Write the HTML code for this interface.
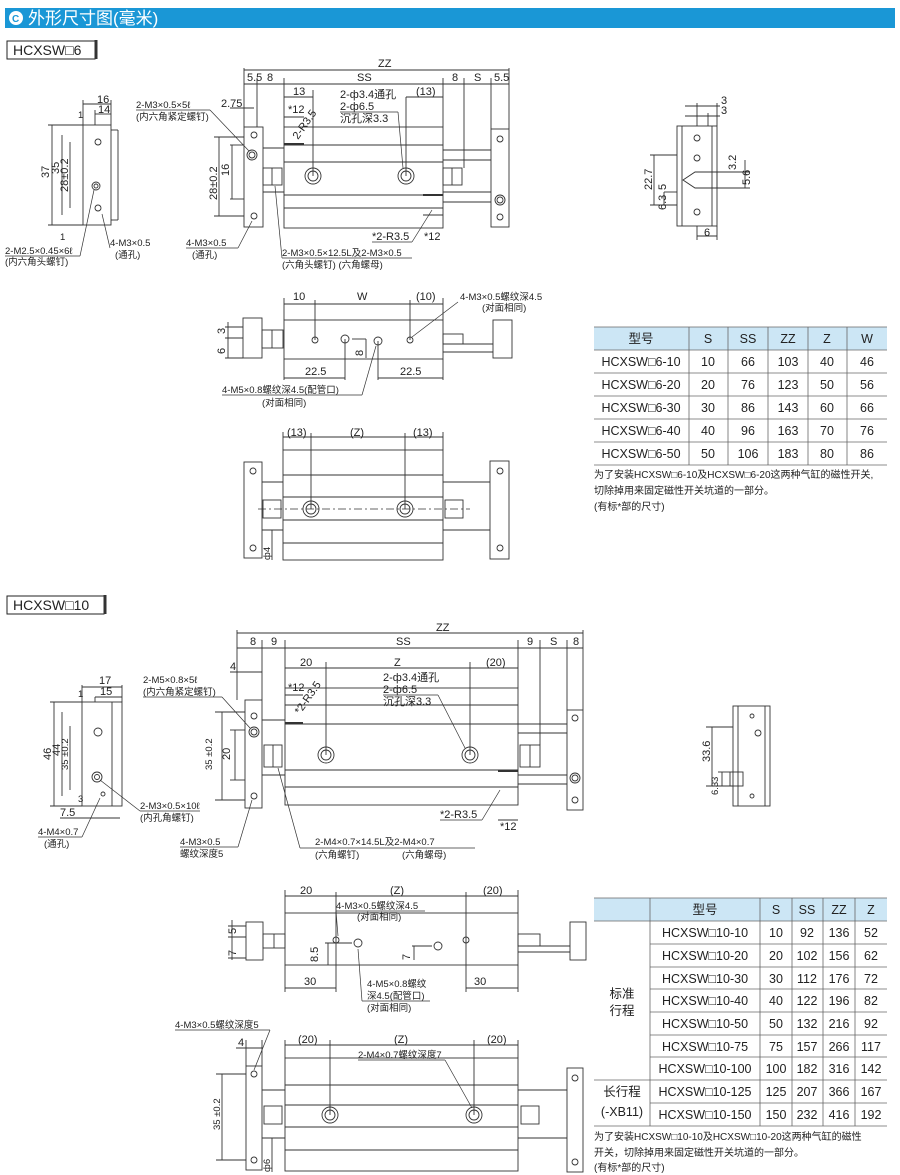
<!DOCTYPE html>
<html><head><meta charset="utf-8"><style>
body{margin:0;background:#fff;width:900px;height:1175px;overflow:hidden;font-family:"Liberation Sans","Noto Sans CJK SC",sans-serif}
svg{position:absolute;left:0;top:0}
text{font-family:"Liberation Sans","Noto Sans CJK SC",sans-serif;fill:#222}
.t{font-size:11px}
.s{font-size:9.5px}
.n{font-size:10px}
.tb{font-size:12.5px}
</style></head><body>
<svg width="900" height="1175" viewBox="0 0 900 1175" stroke="#333" stroke-width="1" fill="none">
<!-- header -->
<rect x="5" y="8" width="890" height="20" fill="#1a97d6" stroke="none"/>
<circle cx="16" cy="18" r="7" fill="#fff" stroke="none"/>
<text x="12" y="22" style="font-size:10px;font-weight:bold;fill:#1a97d6" stroke="none">C</text>
<text x="28" y="24" style="font-size:17px;fill:#fff" stroke="none">外形尺寸图(毫米)</text>
<rect x="7" y="41" width="88" height="18" stroke="#222"/><line x1="96" y1="40" x2="96" y2="59" stroke-width="3"/>
<text x="13" y="55" style="font-size:14px" stroke="none">HCXSW□6</text>
<rect x="7" y="596" width="97" height="18" stroke="#222"/><line x1="105" y1="595" x2="105" y2="614" stroke-width="3"/>
<text x="13" y="610" style="font-size:14px" stroke="none">HCXSW□10</text>

<!-- ===== Section 1 left side view ===== -->
<g stroke-width="0.9">
<rect x="83" y="125" width="28" height="100"/>
<line x1="111" y1="130" x2="118" y2="130"/><line x1="118" y1="130" x2="118" y2="220"/><line x1="111" y1="220" x2="118" y2="220"/>
<circle cx="98" cy="142" r="3"/><circle cx="96" cy="186" r="4"/><circle cx="96" cy="186" r="2"/><circle cx="98" cy="208" r="3"/>
<line x1="52" y1="125" x2="52" y2="225"/><line x1="62" y1="135" x2="62" y2="215"/><line x1="70" y1="142" x2="70" y2="208"/>
<line x1="48" y1="125" x2="83" y2="125"/><line x1="48" y1="225" x2="83" y2="225"/>
<line x1="83" y1="100" x2="83" y2="125"/><line x1="111" y1="100" x2="111" y2="125"/><line x1="95" y1="110" x2="95" y2="125"/>
<line x1="83" y1="104" x2="111" y2="104"/><line x1="95" y1="114" x2="111" y2="114"/>
</g>
<text class="t" x="97" y="103" stroke="none">16</text><text class="t" x="98" y="113" stroke="none">14</text>
<text class="s" x="78" y="118" stroke="none">1</text><text class="s" x="60" y="240" stroke="none">1</text>
<text class="t" transform="translate(49,178) rotate(-90)" stroke="none">37</text>
<text class="t" transform="translate(59,174) rotate(-90)" stroke="none">35</text>
<text class="t" transform="translate(68,192) rotate(-90)" stroke="none">28±0.2</text>
<text class="s" x="5" y="254" stroke="none">2-M2.5×0.45×6ℓ</text><text class="s" x="5" y="265" stroke="none">(内六角头螺钉)</text>
<line x1="5" y1="256" x2="80" y2="256" stroke-width=".7"/><line x1="80" y1="256" x2="94" y2="190" stroke-width=".7"/>
<text class="s" x="110" y="246" stroke="none">4-M3×0.5</text><text class="s" x="115" y="258" stroke="none">(通孔)</text>
<line x1="110" y1="248" x2="102" y2="214" stroke-width=".7"/>

<!-- ===== Section 1 main top view ===== -->
<g stroke-width="0.9">
<rect x="244" y="127" width="19" height="100"/>
<circle cx="254" cy="135" r="3"/><circle cx="252" cy="155" r="5"/><circle cx="252" cy="155" r="3"/><circle cx="254" cy="216" r="3"/>
<rect x="284" y="127" width="159" height="101"/>
<line x1="284" y1="145" x2="443" y2="145"/><line x1="284" y1="162" x2="443" y2="162"/><line x1="284" y1="195" x2="443" y2="195"/><line x1="284" y1="208" x2="443" y2="208"/>
<line x1="263" y1="148" x2="284" y2="148"/><line x1="263" y1="192" x2="284" y2="192"/>
<line x1="443" y1="150" x2="491" y2="150"/><line x1="443" y1="160" x2="491" y2="160"/><line x1="443" y1="192" x2="491" y2="192"/><line x1="443" y1="202" x2="491" y2="202"/>
<rect x="263" y="168" width="19" height="17"/><line x1="272" y1="168" x2="272" y2="185"/>
<rect x="443" y="168" width="19" height="17"/><line x1="452" y1="168" x2="452" y2="185"/>
<rect x="491" y="129" width="18" height="98"/>
<circle cx="500" cy="139" r="3"/><circle cx="500" cy="200" r="5"/><circle cx="500" cy="200" r="3"/><circle cx="500" cy="217" r="3"/>
<circle cx="313" cy="176" r="8"/><circle cx="313" cy="176" r="5"/><circle cx="406" cy="176" r="8"/><circle cx="406" cy="176" r="5"/>
<line x1="284" y1="144" x2="304" y2="144" stroke-width="2"/><line x1="423" y1="195" x2="443" y2="195" stroke-width="2"/>
<line x1="244" y1="68" x2="244" y2="127"/><line x1="509" y1="68" x2="509" y2="129"/>
<line x1="244" y1="70" x2="509" y2="70"/>
<line x1="244" y1="84" x2="509" y2="84"/>
<line x1="257" y1="78" x2="257" y2="127"/><line x1="284" y1="78" x2="284" y2="127"/><line x1="443" y1="78" x2="443" y2="127"/>
<line x1="464" y1="78" x2="464" y2="168"/><line x1="491" y1="78" x2="491" y2="129"/>
<line x1="284" y1="97" x2="313" y2="97"/><line x1="313" y1="90" x2="313" y2="176"/>
<line x1="406" y1="97" x2="406" y2="176"/><line x1="406" y1="97" x2="443" y2="97"/>
<line x1="284" y1="117" x2="304" y2="117"/>
<line x1="230" y1="108" x2="254" y2="108"/>
<line x1="214" y1="137" x2="244" y2="137"/><line x1="214" y1="216" x2="244" y2="216"/>
<line x1="219" y1="137" x2="219" y2="216"/><line x1="230" y1="145" x2="244" y2="145"/><line x1="230" y1="199" x2="244" y2="199"/><line x1="232" y1="145" x2="232" y2="199"/>
<line x1="423" y1="215" x2="443" y2="215"/>
</g>
<text class="t" x="378" y="67" stroke="none">ZZ</text>
<text class="t" x="247" y="81" stroke="none">5.5</text><text class="t" x="267" y="81" stroke="none">8</text>
<text class="t" x="357" y="81" stroke="none">SS</text><text class="t" x="452" y="81" stroke="none">8</text><text class="t" x="474" y="81" stroke="none">S</text><text class="t" x="494" y="81" stroke="none">5.5</text>
<text class="t" x="293" y="95" stroke="none">13</text><text class="t" x="416" y="95" stroke="none">(13)</text>
<text class="t" x="288" y="113" stroke="none">*12</text>
<text class="t" x="221" y="107" stroke="none">2.75</text>
<text class="t" transform="translate(298,140) rotate(-55)" stroke="none">2-R3.5</text>
<text class="t" x="340" y="98" stroke="none">2-ф3.4通孔</text><text class="t" x="340" y="110" stroke="none">2-ф6.5</text><text class="t" x="340" y="122" stroke="none">沉孔深3.3</text>
<line x1="340" y1="112" x2="398" y2="112" stroke-width=".7"/><line x1="398" y1="112" x2="403" y2="168" stroke-width=".7"/>
<text class="t" transform="translate(217,200) rotate(-90)" stroke="none">28±0.2</text>
<text class="t" transform="translate(229,176) rotate(-90)" stroke="none">16</text>
<text class="s" x="136" y="108" stroke="none">2-M3×0.5×5ℓ</text><text class="s" x="136" y="120" stroke="none">(内六角紧定螺钉)</text>
<line x1="136" y1="110" x2="210" y2="110" stroke-width=".7"/><line x1="210" y1="110" x2="249" y2="151" stroke-width=".7"/>
<text class="s" x="186" y="246" stroke="none">4-M3×0.5</text><text class="s" x="192" y="258" stroke="none">(通孔)</text>
<line x1="186" y1="248" x2="238" y2="248" stroke-width=".7"/><line x1="238" y1="248" x2="252" y2="221" stroke-width=".7"/>
<text class="s" x="282" y="256" stroke="none">2-M3×0.5×12.5L及2-M3×0.5</text><text class="s" x="282" y="268" stroke="none">(六角头螺钉) (六角螺母)</text>
<line x1="282" y1="258" x2="412" y2="258" stroke-width=".7"/><line x1="282" y1="258" x2="275" y2="186" stroke-width=".7"/>
<text class="t" x="372" y="240" stroke="none">*2-R3.5</text><text class="t" x="424" y="240" stroke="none">*12</text>
<line x1="372" y1="242" x2="412" y2="242" stroke-width=".7"/><line x1="412" y1="242" x2="432" y2="210" stroke-width=".7"/>

<!-- ===== Section 1 right side view ===== -->
<g stroke-width="0.9">
<rect x="677" y="126" width="40" height="100"/>
<line x1="682" y1="126" x2="682" y2="226"/><line x1="712" y1="126" x2="712" y2="226"/>
<circle cx="697" cy="138" r="3"/><circle cx="697" cy="158" r="3"/><circle cx="697" cy="212" r="3"/>
<path d="M683 180 L695 172 L717 172 L717 188 L695 188 Z"/>
<line x1="697" y1="103" x2="697" y2="126"/><line x1="717" y1="103" x2="717" y2="126"/><line x1="708" y1="113" x2="708" y2="126"/>
<line x1="685" y1="106" x2="720" y2="106"/><line x1="685" y1="116" x2="720" y2="116"/>
<line x1="650" y1="155" x2="677" y2="155"/><line x1="650" y1="205" x2="677" y2="205"/><line x1="654" y1="155" x2="654" y2="205"/>
<line x1="664" y1="192" x2="677" y2="192"/><line x1="664" y1="192" x2="664" y2="205"/>
<line x1="717" y1="172" x2="750" y2="172"/><line x1="717" y1="188" x2="750" y2="188"/><line x1="745" y1="160" x2="745" y2="188"/>
<line x1="697" y1="226" x2="697" y2="240"/><line x1="717" y1="226" x2="717" y2="240"/><line x1="697" y1="236" x2="717" y2="236"/>
</g>
<text class="t" x="721" y="104" stroke="none">3</text><text class="t" x="721" y="114" stroke="none">3</text>
<text class="t" transform="translate(652,190) rotate(-90)" stroke="none">22.7</text>
<text class="t" transform="translate(666,190) rotate(-90)" stroke="none">5</text>
<text class="t" transform="translate(666,210) rotate(-90)" stroke="none">6.3</text>
<text class="t" transform="translate(736,170) rotate(-90)" stroke="none">3.2</text>
<text class="t" transform="translate(750,185) rotate(-90)" stroke="none">5.6</text>
<text class="t" x="704" y="236" stroke="none">6</text>

<!-- ===== Section 1 second view ===== -->
<g stroke-width="0.9">
<rect x="243" y="318" width="19" height="40"/><rect x="262" y="330" width="21" height="18"/><line x1="272" y1="330" x2="272" y2="348"/>
<rect x="284" y="320" width="159" height="39"/>
<rect x="443" y="334" width="20" height="10"/><line x1="443" y1="344" x2="493" y2="344"/><line x1="443" y1="352" x2="493" y2="352"/>
<rect x="493" y="320" width="19" height="38"/>
<circle cx="315" cy="340" r="3"/><circle cx="345" cy="339" r="4"/><circle cx="378" cy="341" r="4"/><circle cx="410" cy="340" r="3"/>
<line x1="284" y1="298" x2="284" y2="320"/><line x1="443" y1="298" x2="443" y2="320"/>
<line x1="284" y1="304" x2="443" y2="304"/><line x1="315" y1="300" x2="315" y2="340"/><line x1="410" y1="300" x2="410" y2="340"/>
<line x1="284" y1="359" x2="284" y2="380"/><line x1="345" y1="339" x2="345" y2="380"/><line x1="284" y1="378" x2="345" y2="378"/>
<line x1="378" y1="341" x2="378" y2="380"/><line x1="443" y1="359" x2="443" y2="380"/><line x1="378" y1="378" x2="443" y2="378"/>
<line x1="352" y1="339" x2="366" y2="339"/><line x1="366" y1="339" x2="366" y2="358"/>
<line x1="225" y1="327" x2="243" y2="327"/><line x1="225" y1="338" x2="243" y2="338"/><line x1="225" y1="358" x2="243" y2="358"/><line x1="228" y1="322" x2="228" y2="358"/>
</g>
<text class="t" x="293" y="300" stroke="none">10</text><text class="t" x="357" y="300" stroke="none">W</text><text class="t" x="416" y="300" stroke="none">(10)</text>
<text class="s" x="460" y="300" stroke="none">4-M3×0.5螺纹深4.5</text><text class="s" x="482" y="311" stroke="none">(对面相同)</text>
<line x1="458" y1="302" x2="412" y2="337" stroke-width=".7"/>
<text class="t" x="305" y="375" stroke="none">22.5</text><text class="t" x="400" y="375" stroke="none">22.5</text>
<text class="t" transform="translate(225,334) rotate(-90)" stroke="none">3</text>
<text class="t" transform="translate(225,354) rotate(-90)" stroke="none">6</text>
<text class="t" transform="translate(363,356) rotate(-90)" stroke="none">8</text>
<text class="s" x="222" y="393" stroke="none">4-M5×0.8螺纹深4.5(配管口)</text><text class="s" x="262" y="406" stroke="none">(对面相同)</text>
<line x1="222" y1="395" x2="362" y2="395" stroke-width=".7"/><line x1="362" y1="395" x2="376" y2="346" stroke-width=".7"/>

<!-- ===== Section 1 third view ===== -->
<g stroke-width="0.9">
<rect x="244" y="462" width="18" height="96"/><circle cx="253" cy="471" r="3"/><circle cx="253" cy="548" r="3"/>
<rect x="283" y="450" width="160" height="110"/>
<line x1="283" y1="475" x2="443" y2="475"/><line x1="283" y1="497" x2="443" y2="497"/><line x1="283" y1="520" x2="443" y2="520"/><line x1="283" y1="543" x2="443" y2="543"/>
<line x1="262" y1="482" x2="283" y2="482"/><line x1="262" y1="530" x2="283" y2="530"/>
<line x1="443" y1="482" x2="490" y2="482"/><line x1="443" y1="530" x2="490" y2="530"/>
<rect x="263" y="500" width="18" height="18"/><rect x="445" y="500" width="18" height="18"/>
<rect x="490" y="461" width="19" height="98"/><circle cx="500" cy="471" r="3"/><circle cx="500" cy="548" r="3"/>
<circle cx="311" cy="509" r="8"/><circle cx="311" cy="509" r="5"/><circle cx="405" cy="509" r="8"/><circle cx="405" cy="509" r="5"/>
<line x1="258" y1="509" x2="470" y2="509" stroke-dasharray="8,3,2,3" stroke-width=".7"/>
<line x1="283" y1="432" x2="283" y2="450"/><line x1="443" y1="432" x2="443" y2="450"/><line x1="283" y1="437" x2="443" y2="437"/>
<line x1="311" y1="433" x2="311" y2="509"/><line x1="405" y1="433" x2="405" y2="509"/>
<line x1="272" y1="530" x2="272" y2="560"/>
</g>
<text class="t" x="287" y="436" stroke="none">(13)</text><text class="t" x="350" y="436" stroke="none">(Z)</text><text class="t" x="413" y="436" stroke="none">(13)</text>
<text class="s" transform="translate(270,560) rotate(-90)" stroke="none">ф4</text>

<!-- ===== Table 1 ===== -->
<rect x="594" y="327" width="293" height="23" fill="#cce6f5" stroke="none"/>
<g stroke="#666" stroke-width=".8">
<line x1="594" y1="327" x2="887" y2="327"/><line x1="594" y1="350" x2="887" y2="350"/>
<line x1="594" y1="373" x2="887" y2="373"/><line x1="594" y1="396" x2="887" y2="396"/><line x1="594" y1="419" x2="887" y2="419"/><line x1="594" y1="442" x2="887" y2="442"/><line x1="594" y1="465" x2="887" y2="465"/>
<line x1="689" y1="327" x2="689" y2="465"/><line x1="728" y1="327" x2="728" y2="465"/><line x1="768" y1="327" x2="768" y2="465"/><line x1="808" y1="327" x2="808" y2="465"/><line x1="847" y1="327" x2="847" y2="465"/>
</g>
<g stroke="none" class="tb" text-anchor="middle">
<text x="641" y="343">型号</text><text x="708" y="343">S</text><text x="748" y="343">SS</text><text x="788" y="343">ZZ</text><text x="827" y="343">Z</text><text x="867" y="343">W</text>
<text x="641" y="366">HCXSW□6-10</text><text x="708" y="366">10</text><text x="748" y="366">66</text><text x="788" y="366">103</text><text x="827" y="366">40</text><text x="867" y="366">46</text>
<text x="641" y="389">HCXSW□6-20</text><text x="708" y="389">20</text><text x="748" y="389">76</text><text x="788" y="389">123</text><text x="827" y="389">50</text><text x="867" y="389">56</text>
<text x="641" y="412">HCXSW□6-30</text><text x="708" y="412">30</text><text x="748" y="412">86</text><text x="788" y="412">143</text><text x="827" y="412">60</text><text x="867" y="412">66</text>
<text x="641" y="435">HCXSW□6-40</text><text x="708" y="435">40</text><text x="748" y="435">96</text><text x="788" y="435">163</text><text x="827" y="435">70</text><text x="867" y="435">76</text>
<text x="641" y="458">HCXSW□6-50</text><text x="708" y="458">50</text><text x="748" y="458">106</text><text x="788" y="458">183</text><text x="827" y="458">80</text><text x="867" y="458">86</text>
</g>
<text class="n" x="594" y="478" stroke="none">为了安装HCXSW□6-10及HCXSW□6-20这两种气缸的磁性开关,</text>
<text class="n" x="594" y="494" stroke="none">切除掉用来固定磁性开关坑道的一部分。</text>
<text class="n" x="594" y="510" stroke="none">(有标*部的尺寸)</text>

<!-- ===== Section 2 left side view ===== -->
<g stroke-width="0.9">
<rect x="82" y="702" width="40" height="104"/><line x1="112" y1="702" x2="112" y2="806"/>
<circle cx="98" cy="732" r="4"/><circle cx="97" cy="777" r="5"/><circle cx="97" cy="777" r="2.5"/><circle cx="103" cy="794" r="2"/>
<line x1="50" y1="702" x2="82" y2="702"/><line x1="50" y1="806" x2="82" y2="806"/><line x1="54" y1="702" x2="54" y2="806"/>
<line x1="62" y1="712" x2="62" y2="796"/><line x1="70" y1="726" x2="70" y2="790"/>
<line x1="82" y1="685" x2="82" y2="702"/><line x1="122" y1="685" x2="122" y2="702"/><line x1="95" y1="697" x2="95" y2="702"/>
<line x1="82" y1="687" x2="122" y2="687"/><line x1="95" y1="697" x2="122" y2="697"/>
<line x1="60" y1="818" x2="120" y2="818"/>
</g>
<text class="t" x="99" y="684" stroke="none">17</text><text class="t" x="100" y="695" stroke="none">15</text><text class="s" x="78" y="697" stroke="none">1</text>
<text class="t" transform="translate(51,760) rotate(-90)" stroke="none">46</text>
<text class="t" transform="translate(60,756) rotate(-90)" stroke="none">44</text>
<text class="s" transform="translate(68,770) rotate(-90)" stroke="none">35 ±0.2</text>
<text class="t" x="60" y="816" stroke="none">7.5</text><text class="s" x="78" y="802" stroke="none">3</text>
<text class="s" x="38" y="835" stroke="none">4-M4×0.7</text><text class="s" x="44" y="847" stroke="none">(通孔)</text>
<line x1="38" y1="837" x2="82" y2="837" stroke-width=".7"/><line x1="82" y1="837" x2="100" y2="798" stroke-width=".7"/>
<text class="s" x="140" y="809" stroke="none">2-M3×0.5×10ℓ</text><text class="s" x="140" y="821" stroke="none">(内孔角螺钉)</text>
<line x1="140" y1="811" x2="200" y2="811" stroke-width=".7"/><line x1="140" y1="811" x2="100" y2="780" stroke-width=".7"/>

<!-- ===== Section 2 main top view ===== -->
<g stroke-width="0.9">
<rect x="245" y="700" width="17" height="108"/><circle cx="254" cy="716" r="3"/><circle cx="254" cy="732" r="5"/><circle cx="254" cy="732" r="3"/><circle cx="254" cy="796" r="3"/>
<rect x="285" y="688" width="233" height="117"/>
<line x1="285" y1="705" x2="518" y2="705"/><line x1="285" y1="724" x2="518" y2="724"/><line x1="285" y1="770" x2="518" y2="770"/><line x1="285" y1="787" x2="518" y2="787"/>
<line x1="262" y1="720" x2="285" y2="720"/><line x1="262" y1="775" x2="285" y2="775"/>
<rect x="264" y="745" width="18" height="22"/><line x1="273" y1="745" x2="273" y2="767"/>
<rect x="520" y="745" width="20" height="22"/><line x1="530" y1="745" x2="530" y2="767"/>
<line x1="518" y1="724" x2="567" y2="724"/><line x1="518" y1="733" x2="567" y2="733"/><line x1="518" y1="775" x2="567" y2="775"/><line x1="518" y1="784" x2="567" y2="784"/>
<rect x="567" y="710" width="16" height="100"/><circle cx="575" cy="718" r="3"/><circle cx="575" cy="778" r="5"/><circle cx="575" cy="778" r="3"/><circle cx="575" cy="800" r="3"/>
<circle cx="326" cy="755" r="8"/><circle cx="326" cy="755" r="5"/><circle cx="470" cy="755" r="8"/><circle cx="470" cy="755" r="5"/>
<line x1="285" y1="723" x2="303" y2="723" stroke-width="2"/><line x1="498" y1="771" x2="518" y2="771" stroke-width="2"/>
<line x1="237" y1="630" x2="237" y2="700"/><line x1="583" y1="630" x2="583" y2="710"/><line x1="237" y1="633" x2="583" y2="633"/>
<line x1="237" y1="648" x2="583" y2="648"/><line x1="262" y1="640" x2="262" y2="700"/><line x1="285" y1="640" x2="285" y2="688"/><line x1="518" y1="640" x2="518" y2="688"/>
<line x1="540" y1="640" x2="540" y2="745"/><line x1="567" y1="640" x2="567" y2="710"/>
<line x1="285" y1="668" x2="326" y2="668"/><line x1="326" y1="662" x2="326" y2="755"/><line x1="470" y1="662" x2="470" y2="755"/><line x1="326" y1="668" x2="518" y2="668"/>
<line x1="285" y1="695" x2="303" y2="695"/>
<line x1="230" y1="672" x2="262" y2="672"/>
<line x1="215" y1="712" x2="245" y2="712"/><line x1="215" y1="800" x2="245" y2="800"/><line x1="222" y1="712" x2="222" y2="800"/>
<line x1="230" y1="730" x2="245" y2="730"/><line x1="230" y1="780" x2="245" y2="780"/><line x1="235" y1="730" x2="235" y2="780"/>
<line x1="498" y1="820" x2="518" y2="820"/>
</g>
<text class="t" x="436" y="631" stroke="none">ZZ</text>
<text class="t" x="250" y="645" stroke="none">8</text><text class="t" x="271" y="645" stroke="none">9</text><text class="t" x="396" y="645" stroke="none">SS</text>
<text class="t" x="527" y="645" stroke="none">9</text><text class="t" x="550" y="645" stroke="none">S</text><text class="t" x="573" y="645" stroke="none">8</text>
<text class="t" x="300" y="666" stroke="none">20</text><text class="t" x="394" y="666" stroke="none">Z</text><text class="t" x="486" y="666" stroke="none">(20)</text>
<text class="t" x="230" y="670" stroke="none">4</text>
<text class="t" x="288" y="691" stroke="none">*12</text>
<text class="t" transform="translate(300,715) rotate(-55)" stroke="none">*2-R3.5</text>
<text class="t" x="383" y="681" stroke="none">2-ф3.4通孔</text><text class="t" x="383" y="693" stroke="none">2-ф6.5</text><text class="t" x="383" y="705" stroke="none">沉孔深3.3</text>
<line x1="383" y1="695" x2="438" y2="695" stroke-width=".7"/><line x1="438" y1="695" x2="465" y2="748" stroke-width=".7"/>
<text class="s" transform="translate(212,770) rotate(-90)" stroke="none">35 ±0.2</text>
<text class="t" transform="translate(230,760) rotate(-90)" stroke="none">20</text>
<text class="s" x="143" y="683" stroke="none">2-M5×0.8×5ℓ</text><text class="s" x="143" y="695" stroke="none">(内六角紧定螺钉)</text>
<line x1="143" y1="697" x2="222" y2="697" stroke-width=".7"/><line x1="222" y1="697" x2="250" y2="728" stroke-width=".7"/>
<text class="s" x="180" y="845" stroke="none">4-M3×0.5</text><text class="s" x="180" y="857" stroke="none">螺纹深度5</text>
<line x1="180" y1="847" x2="238" y2="847" stroke-width=".7"/><line x1="238" y1="847" x2="252" y2="800" stroke-width=".7"/>
<text class="s" x="315" y="845" stroke="none">2-M4×0.7×14.5L及2-M4×0.7</text><text class="s" x="315" y="858" stroke="none">(六角螺钉)</text><text class="s" x="402" y="858" stroke="none">(六角螺母)</text>
<line x1="300" y1="848" x2="475" y2="848" stroke-width=".7"/><line x1="300" y1="848" x2="278" y2="768" stroke-width=".7"/>
<text class="t" x="440" y="818" stroke="none">*2-R3.5</text><text class="t" x="500" y="830" stroke="none">*12</text>
<line x1="440" y1="820" x2="482" y2="820" stroke-width=".7"/><line x1="482" y1="820" x2="500" y2="790" stroke-width=".7"/>

<!-- ===== Section 2 right side view ===== -->
<g stroke-width="0.9">
<rect x="733" y="706" width="37" height="100"/><line x1="738" y1="706" x2="738" y2="806"/><line x1="765" y1="706" x2="765" y2="806"/>
<circle cx="752" cy="716" r="2"/><circle cx="758" cy="733" r="3"/><circle cx="752" cy="796" r="2"/>
<rect x="730" y="772" width="13" height="14"/>
<line x1="706" y1="727" x2="733" y2="727"/><line x1="706" y1="786" x2="733" y2="786"/><line x1="712" y1="727" x2="712" y2="786"/>
<line x1="718" y1="772" x2="730" y2="772"/><line x1="722" y1="772" x2="722" y2="786"/>
</g>
<text class="t" transform="translate(710,762) rotate(-90)" stroke="none">33.6</text>
<text class="s" transform="translate(718,782) rotate(-90)" stroke="none">3</text>
<text class="s" transform="translate(718,795) rotate(-90)" stroke="none">6.3</text>

<!-- ===== Section 2 second view ===== -->
<g stroke-width="0.9">
<rect x="246" y="922" width="17" height="38"/><rect x="263" y="934" width="22" height="14"/><line x1="274" y1="934" x2="274" y2="948"/>
<rect x="285" y="913" width="233" height="52"/>
<rect x="518" y="934" width="22" height="12"/><line x1="518" y1="946" x2="570" y2="946"/><line x1="518" y1="952" x2="570" y2="952"/>
<rect x="570" y="922" width="16" height="38"/>
<circle cx="336" cy="940" r="3"/><circle cx="358" cy="943" r="4"/><circle cx="438" cy="946" r="4"/><circle cx="466" cy="940" r="3"/>
<line x1="285" y1="890" x2="285" y2="913"/><line x1="518" y1="890" x2="518" y2="913"/><line x1="285" y1="896" x2="518" y2="896"/>
<line x1="336" y1="892" x2="336" y2="940"/><line x1="466" y1="892" x2="466" y2="940"/>
<line x1="285" y1="965" x2="285" y2="992"/><line x1="336" y1="940" x2="336" y2="992"/><line x1="285" y1="988" x2="336" y2="988"/>
<line x1="466" y1="940" x2="466" y2="992"/><line x1="518" y1="965" x2="518" y2="992"/><line x1="466" y1="988" x2="518" y2="988"/>
<line x1="228" y1="926" x2="246" y2="926"/><line x1="228" y1="937" x2="246" y2="937"/><line x1="228" y1="958" x2="246" y2="958"/><line x1="232" y1="920" x2="232" y2="960"/>
<line x1="325" y1="943" x2="352" y2="943"/><line x1="328" y1="943" x2="328" y2="965"/>
<line x1="412" y1="946" x2="432" y2="946"/><line x1="414" y1="946" x2="414" y2="960"/>
</g>
<text class="t" x="300" y="894" stroke="none">20</text><text class="t" x="390" y="894" stroke="none">(Z)</text><text class="t" x="483" y="894" stroke="none">(20)</text>
<text class="s" x="336" y="909" stroke="none">4-M3×0.5螺纹深4.5</text><text class="s" x="357" y="920" stroke="none">(对面相同)</text>
<line x1="336" y1="911" x2="425" y2="911" stroke-width=".7"/><line x1="336" y1="911" x2="338" y2="936" stroke-width=".7"/>
<text class="t" x="304" y="985" stroke="none">30</text><text class="t" x="474" y="985" stroke="none">30</text>
<text class="t" transform="translate(236,934) rotate(-90)" stroke="none">5</text>
<text class="t" transform="translate(236,956) rotate(-90)" stroke="none">7</text>
<text class="t" transform="translate(318,962) rotate(-90)" stroke="none">8.5</text>
<text class="t" transform="translate(410,960) rotate(-90)" stroke="none">7</text>
<text class="s" x="367" y="987" stroke="none">4-M5×0.8螺纹</text><text class="s" x="367" y="999" stroke="none">深4.5(配管口)</text><text class="s" x="367" y="1011" stroke="none">(对面相同)</text>
<line x1="362" y1="1001" x2="430" y2="1001" stroke-width=".7"/><line x1="362" y1="1001" x2="358" y2="949" stroke-width=".7"/>

<!-- ===== Section 2 third view ===== -->
<g stroke-width="0.9">
<rect x="246" y="1066" width="16" height="104"/><circle cx="254" cy="1074" r="3"/><circle cx="254" cy="1160" r="3"/>
<rect x="285" y="1058" width="233" height="113"/>
<line x1="285" y1="1085" x2="518" y2="1085"/><line x1="285" y1="1105" x2="518" y2="1105"/><line x1="285" y1="1127" x2="518" y2="1127"/><line x1="285" y1="1150" x2="518" y2="1150"/>
<line x1="262" y1="1090" x2="285" y2="1090"/><line x1="262" y1="1138" x2="285" y2="1138"/>
<line x1="518" y1="1090" x2="567" y2="1090"/><line x1="518" y1="1138" x2="567" y2="1138"/>
<rect x="264" y="1106" width="18" height="18"/><rect x="521" y="1106" width="18" height="18"/>
<rect x="567" y="1068" width="16" height="104"/><circle cx="575" cy="1078" r="3"/><circle cx="575" cy="1162" r="3"/>
<circle cx="330" cy="1115" r="8"/><circle cx="330" cy="1115" r="5"/><circle cx="474" cy="1115" r="8"/><circle cx="474" cy="1115" r="5"/>
<line x1="285" y1="1040" x2="285" y2="1058"/><line x1="518" y1="1040" x2="518" y2="1058"/><line x1="285" y1="1045" x2="518" y2="1045"/>
<line x1="330" y1="1040" x2="330" y2="1115"/><line x1="474" y1="1040" x2="474" y2="1115"/>
<line x1="246" y1="1040" x2="246" y2="1066"/><line x1="262" y1="1040" x2="262" y2="1066"/><line x1="236" y1="1048" x2="262" y2="1048"/>
<line x1="216" y1="1074" x2="246" y2="1074"/><line x1="216" y1="1160" x2="246" y2="1160"/><line x1="222" y1="1074" x2="222" y2="1160"/>
<line x1="272" y1="1138" x2="272" y2="1172"/>
</g>
<text class="t" x="238" y="1046" stroke="none">4</text>
<text class="t" x="298" y="1043" stroke="none">(20)</text><text class="t" x="394" y="1043" stroke="none">(Z)</text><text class="t" x="487" y="1043" stroke="none">(20)</text>
<text class="s" x="175" y="1028" stroke="none">4-M3×0.5螺纹深度5</text>
<line x1="175" y1="1030" x2="270" y2="1030" stroke-width=".7"/><line x1="270" y1="1030" x2="254" y2="1070" stroke-width=".7"/>
<text class="s" x="358" y="1058" stroke="none">2-M4×0.7螺纹深度7</text>
<line x1="358" y1="1060" x2="445" y2="1060" stroke-width=".7"/><line x1="445" y1="1060" x2="472" y2="1108" stroke-width=".7"/>
<text class="s" transform="translate(220,1130) rotate(-90)" stroke="none">35 ±0.2</text>
<text class="s" transform="translate(270,1172) rotate(-90)" stroke="none">ф6</text>

<!-- ===== Table 2 ===== -->
<rect x="594" y="898" width="293" height="23" fill="#cce6f5" stroke="none"/>
<g stroke="#666" stroke-width=".8">
<line x1="594" y1="898" x2="887" y2="898"/><line x1="594" y1="921" x2="887" y2="921"/>
<line x1="650" y1="944" x2="887" y2="944"/><line x1="650" y1="967" x2="887" y2="967"/><line x1="650" y1="989" x2="887" y2="989"/><line x1="650" y1="1012" x2="887" y2="1012"/><line x1="650" y1="1035" x2="887" y2="1035"/><line x1="650" y1="1057" x2="887" y2="1057"/>
<line x1="594" y1="1080" x2="887" y2="1080"/><line x1="650" y1="1103" x2="887" y2="1103"/><line x1="594" y1="1126" x2="887" y2="1126"/>
<line x1="650" y1="898" x2="650" y2="1126"/><line x1="760" y1="898" x2="760" y2="1126"/><line x1="792" y1="898" x2="792" y2="1126"/><line x1="823" y1="898" x2="823" y2="1126"/><line x1="855" y1="898" x2="855" y2="1126"/>
</g>
<g stroke="none" class="tb" text-anchor="middle">
<text x="705" y="914">型号</text><text x="776" y="914">S</text><text x="807" y="914">SS</text><text x="839" y="914">ZZ</text><text x="871" y="914">Z</text>
<text x="622" y="998">标准</text><text x="622" y="1015">行程</text>
<text x="622" y="1096">长行程</text><text x="622" y="1116">(-XB11)</text>
<text x="705" y="937">HCXSW□10-10</text><text x="776" y="937">10</text><text x="807" y="937">92</text><text x="839" y="937">136</text><text x="871" y="937">52</text>
<text x="705" y="960">HCXSW□10-20</text><text x="776" y="960">20</text><text x="807" y="960">102</text><text x="839" y="960">156</text><text x="871" y="960">62</text>
<text x="705" y="983">HCXSW□10-30</text><text x="776" y="983">30</text><text x="807" y="983">112</text><text x="839" y="983">176</text><text x="871" y="983">72</text>
<text x="705" y="1005">HCXSW□10-40</text><text x="776" y="1005">40</text><text x="807" y="1005">122</text><text x="839" y="1005">196</text><text x="871" y="1005">82</text>
<text x="705" y="1028">HCXSW□10-50</text><text x="776" y="1028">50</text><text x="807" y="1028">132</text><text x="839" y="1028">216</text><text x="871" y="1028">92</text>
<text x="705" y="1051">HCXSW□10-75</text><text x="776" y="1051">75</text><text x="807" y="1051">157</text><text x="839" y="1051">266</text><text x="871" y="1051">117</text>
<text x="705" y="1073">HCXSW□10-100</text><text x="776" y="1073">100</text><text x="807" y="1073">182</text><text x="839" y="1073">316</text><text x="871" y="1073">142</text>
<text x="705" y="1096">HCXSW□10-125</text><text x="776" y="1096">125</text><text x="807" y="1096">207</text><text x="839" y="1096">366</text><text x="871" y="1096">167</text>
<text x="705" y="1119">HCXSW□10-150</text><text x="776" y="1119">150</text><text x="807" y="1119">232</text><text x="839" y="1119">416</text><text x="871" y="1119">192</text>
</g>
<text class="n" x="594" y="1140" stroke="none">为了安装HCXSW□10-10及HCXSW□10-20这两种气缸的磁性</text>
<text class="n" x="594" y="1156" stroke="none">开关，切除掉用来固定磁性开关坑道的一部分。</text>
<text class="n" x="594" y="1171" stroke="none">(有标*部的尺寸)</text>
</svg>
</body></html>
